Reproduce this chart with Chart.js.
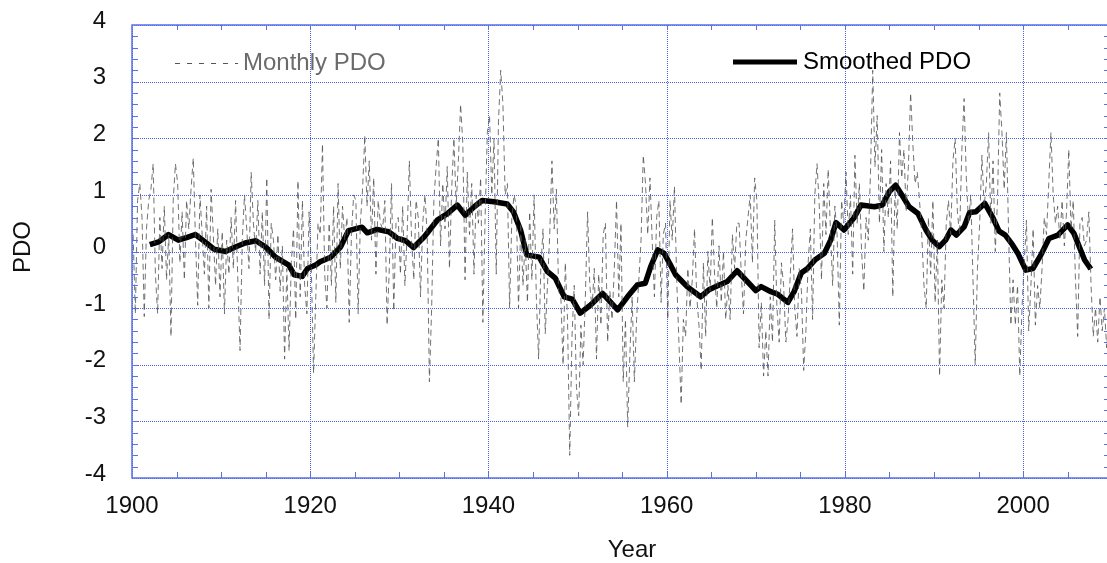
<!DOCTYPE html>
<html>
<head>
<meta charset="utf-8">
<script src="https://cdn.jsdelivr.net/npm/chart.js@4.4.1/dist/chart.umd.min.js"></script>
<style>
  html, body { margin: 0; padding: 0; background: #fff; }
  #wrap { width: 1107px; height: 563px; overflow: hidden; position: relative; }
</style>
</head>
<body>
<div id="wrap"><canvas id="pdo" width="1110" height="563"></canvas></div>
<script>
// Monthly PDO at 4 samples per year (1900 .. 2009)
const monthlyPDO = [
  0.3, -1.1, 0.9, 1.2,     0.6, -1.15, 0.4, 0.9,    1.1, 1.55, -0.4, -1.1,   0.6, -0.3, 0.8, -0.5,
  0.3, -1.5, 0.9, 1.55,    1.2, -0.2, 0.7, -0.5,    0.9, 0.4, 1.1, 1.65,     0.2, -0.95, 1.0, 0.3,
  -0.4, 0.8, -1.0, 1.1,    0.3, -0.6, 0.4, -0.8,
  0.35, -1.1, 0.2, -0.4,   0.6, -0.3, 0.9, -0.5,    -1.75, 0.2, 1.0, 0.4,    -0.3, 1.4, 0.5, 0.0,
  0.9, -0.4, 0.7, -0.6,    1.3, -1.2, 0.5, 0.2,     -0.5, 0.3, -0.7, 0.1,    -1.9, -0.3, -1.75, -0.2,
  0.4, -1.2, 1.25, -0.8,   0.9, -0.6, -1.1, 0.7,
  -0.3, -2.15, -0.8, 0.5,  0.3, 1.9, -0.4, -1.0,    0.5, -0.6, 0.8, -0.9,    1.2, -0.3, 0.8, 0.2,
  0.6, -1.25, 0.3, 1.0,    0.9, -1.1, 0.5, 1.1,     2.05, 0.8, 1.6, 0.2,     1.3, -0.4, 0.9, 0.5,
  0.4, 0.9, -1.3, -0.3,    1.2, -1.05, 0.5, 0.6,
  -0.4, 0.8, -0.6, 0.3,    1.6, 0.2, -0.5, 0.9,     0.6, -0.8, 0.5, 1.0,     0.3, -2.3, -1.0, 0.9,
  1.5, 2.0, 0.1, 1.2,      0.4, 1.5, -0.3, 1.1,     2.0, 0.8, 1.6, 2.6,      1.9, -0.5, 1.4, 0.3,
  1.2, -0.4, 1.0, 0.5,     1.3, -1.25, 0.6, 2.1,
  2.4, 1.0, 2.0, -0.4,     2.3, 3.2, 2.6, 1.0,      1.2, -1.0, 0.6, 1.0,     0.8, -1.0, 0.5, -0.6,
  0.2, -0.9, 0.7, -0.5,    1.0, -0.8, -1.9, -0.3,   0.4, -1.45, -0.6, 0.3,   1.6, 0.4, 1.1, -0.7,
  -0.8, -2.0, -0.2, -1.2,  -3.6, -1.5, -0.6, -2.4,
  -2.9, -1.3, -2.0, -0.8,  0.7, -0.6, -1.0, -0.3,   -1.9, -0.4, -1.3, 0.3,   0.5, -1.6, -0.7, -1.2,
  -0.3, 0.9, -0.8, 0.5,    -2.3, -1.2, -3.1, -1.8,  -0.8, -2.3, -1.2, -0.5,  0.2, 1.7, 1.2, 0.3,
  1.3, 0.2, -0.8, 0.6,     0.9, -0.9, 0.3, 0.5,
  -1.2, 0.9, 0.2, 1.15,    -0.5, -1.6, -2.7, -1.2,  -1.5, -0.3, -1.0, -0.5,  0.4, -0.8, -1.3, -2.1,
  -0.2, -1.5, 0.0, -0.7,   0.6, -0.4, -1.0, 0.1,    -0.9, 0.0, -1.2, -0.6,   -1.2, 0.3, -0.3, 0.5,
  0.5, -0.4, -1.1, 0.2,    0.6, 1.0, -0.2, 1.3,
  0.9, -1.7, -0.9, -2.2,   -1.4, -2.2, -0.8, -1.6,  0.55, -1.0, -1.6, -0.2,  -0.6, -1.6, -1.2, -0.4,
  0.4, -1.0, -1.5, -0.3,   -0.7, -2.1, -1.4, -0.2,  0.4, -1.2, 1.0, 1.55,    0.8, -0.5, 1.2, 0.3,
  1.45, 0.4, -0.6, 0.8,    0.3, -1.3, 0.9, 0.5,
  1.4, 0.3, 1.0, -0.4,     1.7, 0.5, 1.2, 0.0,      -0.7, 0.6, 0.2, 1.4,     3.2, 1.5, 2.4, 0.5,
  1.8, 0.0, 1.2, 0.6,      1.6, -0.8, 1.1, 0.4,     2.1, 1.3, 1.8, 0.7,      1.5, 2.8, 1.9, 1.2,
  1.4, 0.9, 0.3, -0.6,     -1.0, 0.6, -0.4, 0.9,
  -0.9, 0.2, -2.2, -0.5,   -1.0, 0.5, 0.9, 0.3,     1.6, 2.0, 0.7, 0.3,      1.8, 2.7, 1.3, 0.5,
  1.0, -0.5, -2.0, -0.3,   0.5, 1.7, 0.8, 1.2,      2.1, 0.5, 1.6, 0.0,      0.9, 2.8, 2.1, 1.1,
  2.1, 0.3, -1.3, -0.5,    -1.3, -0.6, -2.2, -1.0,
  -0.2, 0.55, -1.4, -0.6,  0.4, -1.3, -0.6, -1.0,   -0.3, 0.6, 0.3, 1.2,     2.1, 1.0, 0.5, 0.8,
  0.2, 0.9, 0.1, 0.7,      1.8, 0.4, 0.9, -0.5,     -1.5, 0.5, 0.6, 0.1,     0.2, 0.7, -0.6, -1.5,
  -1.0, -1.6, -0.8, -1.4,  -1.0, -1.7, -1.2, -1.75
];
const monthlyStart = 1900;
const samplesPerYear = 4;

// Smoothed PDO (thick black line)
const smoothYears = [
  1902.0, 1903.0, 1904.1, 1905.2, 1906.2, 1907.1, 1908.2, 1909.2, 1910.5, 1911.6,
  1912.7, 1913.9, 1915.0, 1916.1, 1917.6, 1918.2, 1919.1, 1919.7, 1920.6, 1921.1,
  1922.3, 1923.4, 1924.3, 1925.8, 1926.4, 1927.5, 1928.8, 1929.8, 1930.7, 1931.6,
  1932.8, 1934.3, 1935.4, 1936.5, 1937.4, 1938.4, 1939.3, 1940.6, 1942.1, 1942.8,
  1943.6, 1944.3, 1945.7, 1946.6, 1947.5, 1948.5, 1949.4, 1950.3, 1951.5, 1952.8,
  1954.5, 1955.6, 1956.7, 1957.6, 1958.2, 1959.0, 1959.7, 1960.3, 1961.0, 1962.3,
  1963.8, 1964.8, 1965.9, 1966.8, 1967.9, 1969.4, 1970.0, 1970.6, 1971.7, 1972.4,
  1973.6, 1974.3, 1975.1, 1975.8, 1976.7, 1977.7, 1978.4, 1979.0, 1979.9, 1981.0,
  1981.8, 1983.3, 1984.2, 1985.0, 1985.7, 1986.5, 1987.2, 1988.2, 1989.1, 1989.8,
  1990.6, 1991.3, 1991.9, 1992.5, 1993.4, 1994.0, 1994.7, 1995.7, 1996.6, 1997.3,
  1998.0, 1998.8, 1999.4, 2000.3, 2001.1, 2002.0, 2002.9, 2003.9, 2005.0, 2005.7,
  2006.9, 2007.6
];
const smoothPDO = [
  0.12, 0.17, 0.3, 0.2, 0.25, 0.3, 0.17, 0.04, 0.0, 0.08,
  0.15, 0.19, 0.08, -0.1, -0.24, -0.41, -0.44, -0.3, -0.24, -0.18,
  -0.1, 0.08, 0.37, 0.43, 0.33, 0.39, 0.35, 0.23, 0.19, 0.07,
  0.26, 0.56, 0.67, 0.82, 0.64, 0.79, 0.9, 0.88, 0.84, 0.7,
  0.38, -0.06, -0.1, -0.35, -0.47, -0.8, -0.84, -1.09, -0.94, -0.74,
  -1.03, -0.8, -0.59, -0.56, -0.27, 0.03, -0.03, -0.2, -0.41, -0.62,
  -0.8, -0.67, -0.59, -0.53, -0.34, -0.59, -0.69, -0.62, -0.71, -0.75,
  -0.9, -0.71, -0.38, -0.3, -0.14, -0.03, 0.2, 0.51, 0.38, 0.59,
  0.82, 0.79, 0.82, 1.06, 1.17, 0.97, 0.79, 0.67, 0.38, 0.2,
  0.085, 0.2, 0.38, 0.29, 0.44, 0.69, 0.7, 0.85, 0.6, 0.36,
  0.29, 0.12, -0.03, -0.33, -0.3, -0.06, 0.23, 0.29, 0.47, 0.32,
  -0.15, -0.31
];

const xTicks = [1900, 1920, 1940, 1960, 1980, 2000];
const yTicks = [-4, -3, -2, -1, 0, 1, 2, 3, 4];
const xRange = [1900, 2009.75];

const FONT = "'Liberation Sans', Arial, Helvetica, sans-serif";
const AXIS_BLUE = '#5a70e8';
const GRID_BLUE = '#4863ee';

const monthlyPoints = monthlyPDO.map((v, i) => ({ x: monthlyStart + (i + 0.5) / samplesPerYear, y: v }));
const smoothPoints = smoothYears.map((yr, i) => ({ x: yr, y: smoothPDO[i] }));

const frame = {
  id: 'frame',
  beforeDatasetsDraw(chart) {
    const { ctx, chartArea: a, scales: { x, y } } = chart;
    ctx.save();
    ctx.strokeStyle = GRID_BLUE;
    ctx.lineWidth = 1;
    ctx.setLineDash([1, 1]);
    xTicks.forEach(v => {
      const px = Math.round(x.getPixelForValue(v)) + 0.5;
      ctx.beginPath(); ctx.moveTo(px, a.top); ctx.lineTo(px, a.bottom); ctx.stroke();
    });
    yTicks.forEach(v => {
      const py = Math.round(y.getPixelForValue(v)) + 0.5;
      ctx.beginPath(); ctx.moveTo(a.left, py); ctx.lineTo(a.right, py); ctx.stroke();
    });
    ctx.restore();
  },
  afterDatasetsDraw(chart) {
    const { ctx, chartArea: a, scales: { x, y } } = chart;
    ctx.save();
    // minor ticks, pointing inward on all four sides
    ctx.strokeStyle = AXIS_BLUE;
    ctx.lineWidth = 1;
    for (let yr = 1905; yr < xRange[1]; yr += 5) {
      const px = Math.round(x.getPixelForValue(yr)) + 0.5;
      ctx.beginPath();
      ctx.moveTo(px, a.bottom); ctx.lineTo(px, a.bottom - 6);
      ctx.moveTo(px, a.top); ctx.lineTo(px, a.top + 5);
      ctx.stroke();
    }
    for (let k = -19; k <= 19; k++) {
      const py = Math.round(y.getPixelForValue(k / 5)) + 0.5;
      ctx.beginPath();
      ctx.moveTo(a.left, py); ctx.lineTo(a.left + 6, py);
      ctx.moveTo(a.right, py); ctx.lineTo(a.right - 6, py);
      ctx.stroke();
    }
    // plot frame
    ctx.lineWidth = 1.5;
    ctx.strokeRect(a.left, a.top, a.right - a.left, a.bottom - a.top);

    // legend
    ctx.setLineDash([5, 7]);
    ctx.strokeStyle = '#555';
    ctx.lineWidth = 1;
    ctx.beginPath(); ctx.moveTo(175, 63.5); ctx.lineTo(238, 63.5); ctx.stroke();
    ctx.setLineDash([]);
    ctx.strokeStyle = '#000';
    ctx.lineWidth = 5;
    ctx.beginPath(); ctx.moveTo(733, 62); ctx.lineTo(797, 62); ctx.stroke();
    ctx.font = '24px ' + FONT;
    ctx.textBaseline = 'middle';
    ctx.textAlign = 'left';
    ctx.fillStyle = '#6b6b6b';
    ctx.fillText('Monthly PDO', 243, 63);
    ctx.fillStyle = '#000';
    ctx.fillText('Smoothed PDO', 803, 62);

    // axis titles
    ctx.fillStyle = '#111';
    ctx.textAlign = 'center';
    ctx.fillText('Year', 632, 550);
    ctx.translate(23, 247);
    ctx.rotate(-Math.PI / 2);
    ctx.fillText('PDO', 0, 0);
    ctx.restore();
  }
};

new Chart(document.getElementById('pdo'), {
  type: 'line',
  data: {
    datasets: [
      {
        label: 'Monthly PDO',
        data: monthlyPoints,
        borderColor: 'rgba(80,80,80,0.8)',
        borderWidth: 1,
        borderDash: [6, 4],
        pointRadius: 0,
        tension: 0
      },
      {
        label: 'Smoothed PDO',
        data: smoothPoints,
        borderColor: '#000',
        borderWidth: 5.5,
        borderJoinStyle: 'round',
        pointRadius: 0,
        tension: 0
      }
    ]
  },
  options: {
    responsive: false,
    animation: false,
    layout: { padding: { top: 25, right: 0, left: 0, bottom: 0 } },
    plugins: { legend: { display: false }, tooltip: { enabled: false } },
    scales: {
      x: {
        type: 'linear',
        min: xRange[0],
        max: xRange[1],
        afterBuildTicks: s => { s.ticks = xTicks.map(v => ({ value: v })); },
        afterFit: s => { s.height = 85; s.paddingLeft = 0; s.paddingRight = 0; },
        grid: { display: false, drawTicks: false },
        border: { display: false },
        ticks: { padding: 14, color: '#111', font: { family: FONT, size: 24 }, maxRotation: 0, callback: v => String(v) }
      },
      y: {
        min: -4,
        max: 4,
        afterBuildTicks: s => { s.ticks = yTicks.map(v => ({ value: v })); },
        afterFit: s => { s.width = 132; s.paddingTop = 0; s.paddingBottom = 0; },
        grid: { display: false, drawTicks: false },
        border: { display: false },
        ticks: { padding: 26, labelOffset: -4, color: '#111', font: { family: FONT, size: 24 }, callback: v => String(v) }
      }
    }
  },
  plugins: [frame]
});
</script>
</body>
</html>
